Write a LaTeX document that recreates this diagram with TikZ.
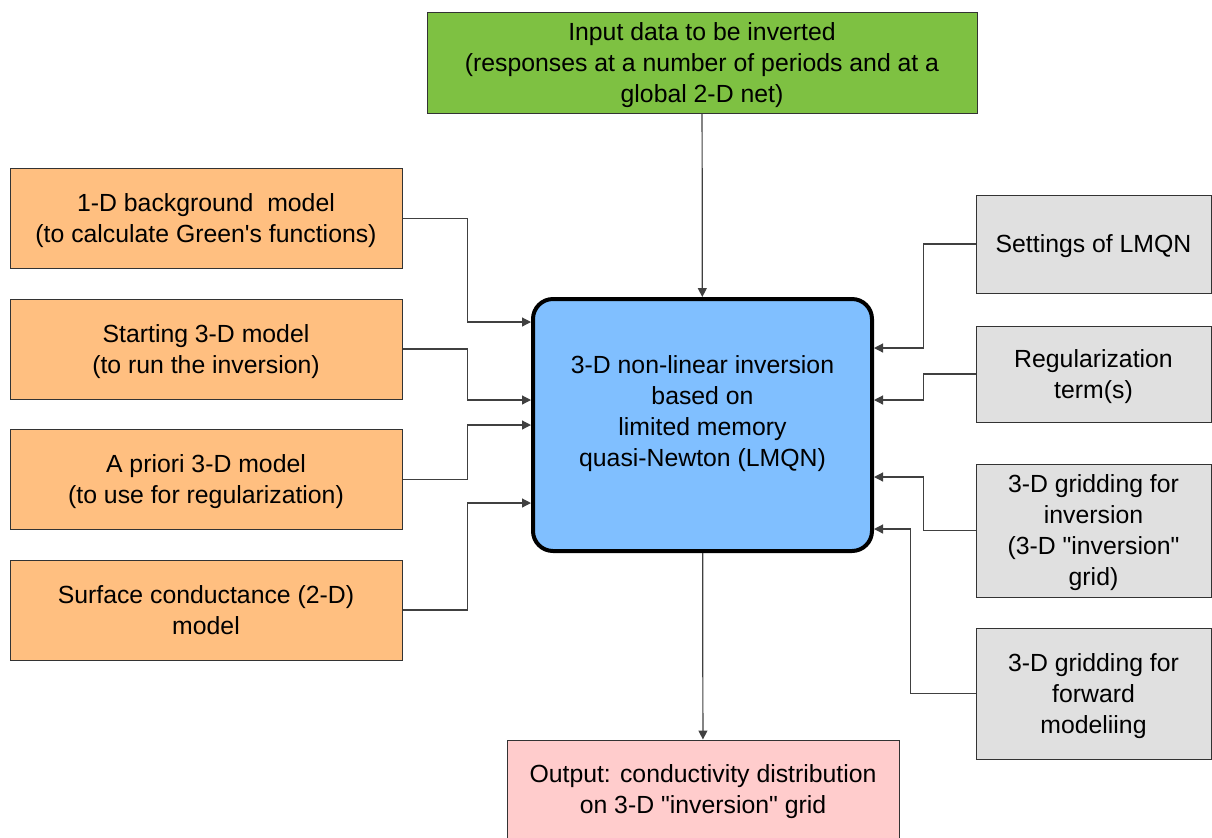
\documentclass[tikz,border=0pt]{standalone}
\usepackage{fontspec}
\setmainfont{Liberation Sans}
\usetikzlibrary{arrows.meta,positioning}
\definecolor{ingreen}{RGB}{126,193,66}
\definecolor{leftorange}{RGB}{255,191,128}
\definecolor{coreblue}{RGB}{128,191,255}
\definecolor{setgray}{RGB}{224,224,224}
\definecolor{outpink}{RGB}{255,204,204}
\tikzstyle{databox}=[
	rectangle,
	draw=black!80,
	line width=0.5pt,
	align=center,
	inner sep=0pt,
	text depth=-3.5pt,
	font=\fontsize{12.4}{15.5}\selectfont]
\tikzstyle{inbox}=[databox,fill=ingreen,minimum width=275pt,minimum height=50.5pt]
\tikzstyle{leftbox}=[databox,fill=leftorange,minimum width=196pt,minimum height=50pt]
\tikzstyle{setbox}=[databox,fill=setgray,minimum width=117.5pt]
\tikzstyle{outbox}=[databox,fill=outpink,minimum width=196pt,minimum height=49pt]
\tikzstyle{corebox}=[databox,fill=coreblue,draw=black,line width=2pt,
	rounded corners=10pt,minimum width=169.5pt,minimum height=126pt,text depth=14pt]
\tikzstyle{link}=[->,draw=black!75,line width=0.6pt]

\begin{document}
\begin{tikzpicture}[x=0.5pt,y=-0.5pt,>={Triangle[length=4.5pt,width=4.5pt]}]
		\useasboundingbox (0,0) rectangle (1212,837);
		\node[inbox] (input) at (702,62.5) {Input data to be inverted\\(responses at a number of periods and at a\\global 2-D net)};
		\node[corebox] (core) at (702.5,425) {3-D non-linear inversion\\based on\\limited memory\\quasi-Newton (LMQN)};
		\node[outbox] (output) at (703,789) {Output: conductivity distribution\\on 3-D \textquotedbl inversion\textquotedbl\ grid};
		% inputs on the left
		\begin{scope}[node distance=14.75pt]
			\node[leftbox] (bg) at (206,218.5) {1-D background\ \ model\\(to calculate Green\textquotesingle s functions)};
			\node[leftbox] (start) [below=of bg] {Starting 3-D model\\(to run the inversion)};
			\node[leftbox] (apriori) [below=of start] {A priori 3-D model\\(to use for regularization)};
			\node[leftbox] (surf) [below=of apriori] {Surface conductance (2-D)\\model};
		\end{scope}
		% settings on the right
		\node[setbox,minimum height=49pt] (settings) at (1093.5,244) {Settings of LMQN};
		\node[setbox,minimum height=48pt] (reg) [below=16pt of settings] {Regularization\\term(s)};
		\node[setbox,minimum height=66.5pt] (gridinv) [below=20.5pt of reg] {3-D gridding for\\inversion\\(3-D \textquotedbl inversion\textquotedbl\\grid)};
		\node[setbox,minimum height=65.5pt] (gridfwd) [below=15pt of gridinv] {3-D gridding for\\forward\\modeliing};
		% connectors
		\draw[link] (input) -- (core);
		\draw[link] (core) -- (output);
		\draw[link] (bg.east) -- ++(65,0) |- ([yshift=51.5pt]core.west);
		\draw[link] (start.east) -- ++(65,0) |- ([yshift=12.5pt]core.west);
		\draw[link] (apriori.east) -- ++(65,0) |- (core.west);
		\draw[link] (surf.east) -- ++(65,0) |- ([yshift=-39pt]core.west);
		\draw[link] (settings.west) -- ++(-52,0) |- ([yshift=38.5pt]core.east);
		\draw[link] (reg.west) -- ++(-52,0) |- ([yshift=12.5pt]core.east);
		\draw[link] (gridinv.west) -- ++(-52,0) |- ([yshift=-26pt]core.east);
		\draw[link] (gridfwd.west) -- ++(-65,0) |- ([yshift=-52pt]core.east);
\end{tikzpicture}
\end{document}
